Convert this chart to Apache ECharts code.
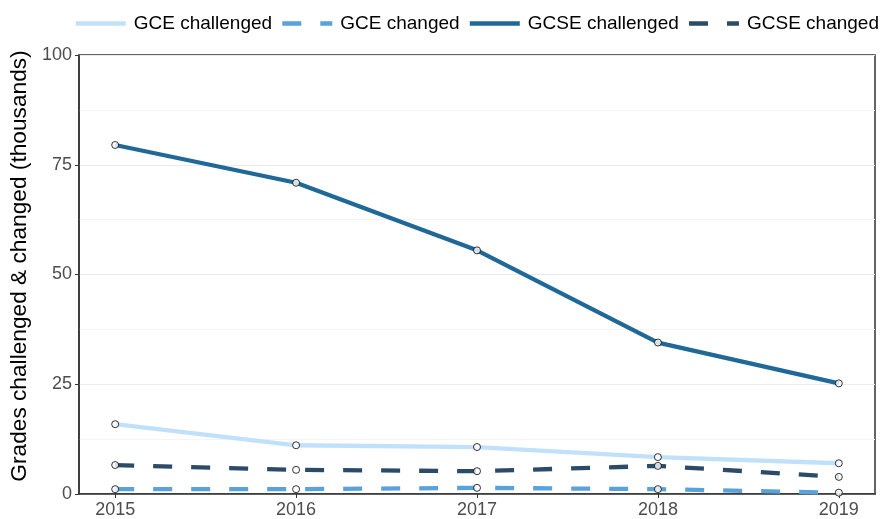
<!DOCTYPE html>
<html>
<head>
<meta charset="utf-8">
<script src="https://cdn.jsdelivr.net/npm/echarts@6/dist/echarts.min.js"></script>
<style>
  html, body { margin: 0; padding: 0; background: #fff; }
  #chart { width: 881px; height: 519px; }
</style>
</head>
<body>
<div id="chart"></div>
<script>
// 数据（单位：千）
var years = [2015, 2016, 2017, 2018, 2019];
var gceChallenged = [15.9, 11.1, 10.7, 8.4, 7.0];
var gceChanged = [1.1, 1.1, 1.4, 1.1, 0.3];
var gcseChallenged = [79.5, 70.9, 55.5, 34.5, 25.2];
var gcseChanged = [6.6, 5.5, 5.2, 6.4, 3.9];
var yTicks = [0, 25, 50, 75, 100];

var names = ["GCE challenged", "GCE changed", "GCSE challenged", "GCSE changed"];
var colors = ["#c1e1fb", "#5aa2da", "#1f6898", "#2b4b68"];
var dashed = [false, true, false, true];
var values = [gceChallenged, gceChanged, gcseChallenged, gcseChanged];

function pairs(arr) {
  return years.map(function (y, i) { return [y, arr[i]]; });
}

var series = [];
values.forEach(function (arr, k) {
  series.push({
    name: names[k],
    type: "line",
    data: pairs(arr),
    symbol: "none",
    z: 2,
    lineStyle: {
      color: colors[k],
      width: 4.3,
      type: dashed[k] ? [19, 19] : "solid",
      cap: "butt"
    },
    itemStyle: { color: colors[k] }
  });
});
// 点画在所有线的上面
values.forEach(function (arr, k) {
  series.push({
    type: "scatter",
    data: pairs(arr),
    symbol: "circle",
    symbolSize: 7,
    z: 5,
    silent: true,
    itemStyle: { color: "#fff", borderColor: "#000", borderWidth: 1 }
  });
});

var myChart = echarts.init(document.getElementById("chart"));
var option = {
  animation: false,
  textStyle: { fontFamily: "Liberation Sans" },
  legend: {
    data: names,
    top: 9,
    right: -3,
    itemWidth: 50,
    itemHeight: 4,
    itemGap: 8,
    itemStyle: { opacity: 0 },
    lineStyle: { width: 4.3 },
    textStyle: { fontSize: 19, color: "#000", fontFamily: "Liberation Sans", padding: [0, 0, 0, 3] }
  },
  grid: {
    left: 79, right: 6, top: 55, bottom: 24,
    show: true, borderColor: "#333", borderWidth: 1.5
  },
  xAxis: {
    type: "value",
    min: 2014.8,
    max: 2019.2,
    axisLine: { show: true, onZero: false, lineStyle: { color: "#333", width: 1.5 } },
    axisTick: { show: true, length: 4, customValues: years, lineStyle: { color: "#333" } },
    axisLabel: {
      customValues: years, fontSize: 18, color: "#4d4d4d", margin: 7,
      formatter: function (v) { return String(v); }
    },
    splitLine: { show: false }
  },
  yAxis: {
    type: "value",
    min: 0,
    max: 100,
    interval: 25,
    name: "Grades challenged & changed (thousands)",
    nameLocation: "middle",
    nameGap: 43,
    nameTextStyle: { fontSize: 22.7, color: "#000", fontFamily: "Liberation Sans", padding: [0, 0, 0, 17] },
    axisLine: { show: true, lineStyle: { color: "#333", width: 1.5 } },
    axisTick: { show: true, length: 4, lineStyle: { color: "#333" } },
    axisLabel: { fontSize: 18, color: "#4d4d4d", margin: 7 },
    splitLine: { show: true, lineStyle: { color: "#ebebeb", width: 1 } },
    minorTick: { show: false, splitNumber: 2 },
    minorSplitLine: { show: true, lineStyle: { color: "#f4f4f4", width: 1 } }
  },
  series: series
};
myChart.setOption(option);
</script>
</body>
</html>
